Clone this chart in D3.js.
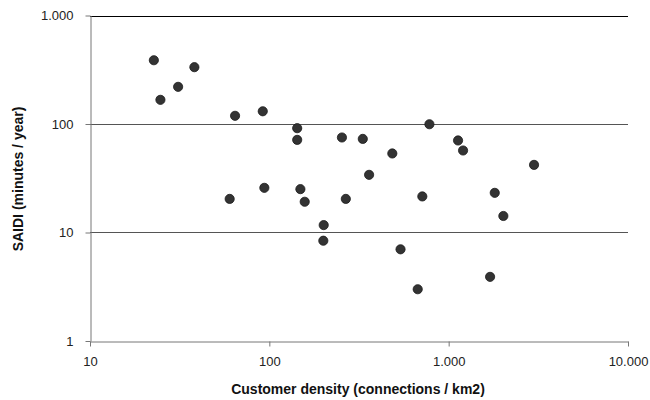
<!DOCTYPE html>
<html>
<head>
<meta charset="utf-8">
<script src="https://cdn.jsdelivr.net/npm/d3@7"></script>
<style>
  body { margin: 0; background: #fff; }
  text { font-family: "Liberation Sans", Arial, sans-serif; }
</style>
</head>
<body>
<div id="chart"></div>
<script>
// customer density (connections / km2) and SAIDI (minutes / year)
const density = [22.7, 24.7, 31, 38.2, 64.4, 91.9, 60.1, 93.8, 143, 143, 149, 157.5, 201, 200,
                 254, 267, 332, 360, 485, 539, 672, 713, 781, 1128, 1203, 1702, 1807, 2018, 2993];
const saidi   = [387, 167, 220, 334, 119, 131, 20.4, 25.8, 91.5, 71.4, 25.1, 19.2, 11.7, 8.4,
                 75.1, 20.4, 72.9, 34, 53.5, 7.0, 3.0, 21.5, 99.5, 70.5, 57, 3.9, 23.2, 14.2, 42];
const xTicks = [10, 100, 1000, 10000];
const yTicks = [1, 10, 100, 1000];

const width = 650, height = 400;
const margin = { top: 15.5, right: 22, bottom: 59, left: 90 };

const fmt = d3.formatLocale({ decimal: ",", thousands: ".", grouping: [3], currency: ["", ""] }).format(",");

const svg = d3.select("#chart").append("svg")
    .attr("width", width)
    .attr("height", height);

const x = d3.scaleLog().domain([10, 10000]).range([margin.left, width - margin.right]);
const y = d3.scaleLog().domain([1, 1000]).range([height - margin.bottom, margin.top]);

// horizontal gridlines
svg.append("g")
    .selectAll("line")
    .data(yTicks.slice(1))
    .join("line")
    .attr("x1", margin.left)
    .attr("x2", width - margin.right)
    .attr("y1", d => Math.round(y(d)) + 0.5)
    .attr("y2", d => Math.round(y(d)) + 0.5)
    .attr("stroke", d => d === 1000 ? "#000" : "#555")
    .attr("stroke-width", 1);

// axes
const xAxis = svg.append("g")
    .attr("transform", `translate(0,${Math.round(y(1)) + 0.5})`)
    .call(d3.axisBottom(x).tickValues(xTicks).tickFormat(fmt).tickSize(5).tickPadding(10).tickSizeOuter(0));

const yAxis = svg.append("g")
    .attr("transform", `translate(${Math.round(x(10)) + 0.5},0)`)
    .call(d3.axisLeft(y).tickValues(yTicks).tickFormat(fmt).tickSize(5).tickPadding(12).tickSizeOuter(0));

[xAxis, yAxis].forEach(g => {
    g.select(".domain").attr("stroke", "#777");
    g.selectAll(".tick line").attr("stroke", "#777");
    g.selectAll(".tick text")
        .attr("fill", "#222")
        .style("font-size", "13px")
        .style("font-family", "'Liberation Sans', Arial, sans-serif");
});

// points
svg.append("g")
    .selectAll("circle")
    .data(density.map((d, i) => ({ x: d, y: saidi[i] })))
    .join("circle")
    .attr("cx", d => x(d.x))
    .attr("cy", d => y(d.y))
    .attr("r", 4.6)
    .attr("fill", "#333")
    .attr("stroke", "#1a1a1a")
    .attr("stroke-width", 0.8);

// axis titles
svg.append("text")
    .attr("x", 358)
    .attr("y", 393.5)
    .attr("text-anchor", "middle")
    .style("font-size", "14px")
    .style("font-weight", "bold")
    .attr("fill", "#111")
    .text("Customer density (connections / km2)");

svg.append("text")
    .attr("transform", "translate(23,179) rotate(-90)")
    .attr("text-anchor", "middle")
    .style("font-size", "14px")
    .style("font-weight", "bold")
    .attr("fill", "#111")
    .text("SAIDI (minutes / year)");
</script>
</body>
</html>
